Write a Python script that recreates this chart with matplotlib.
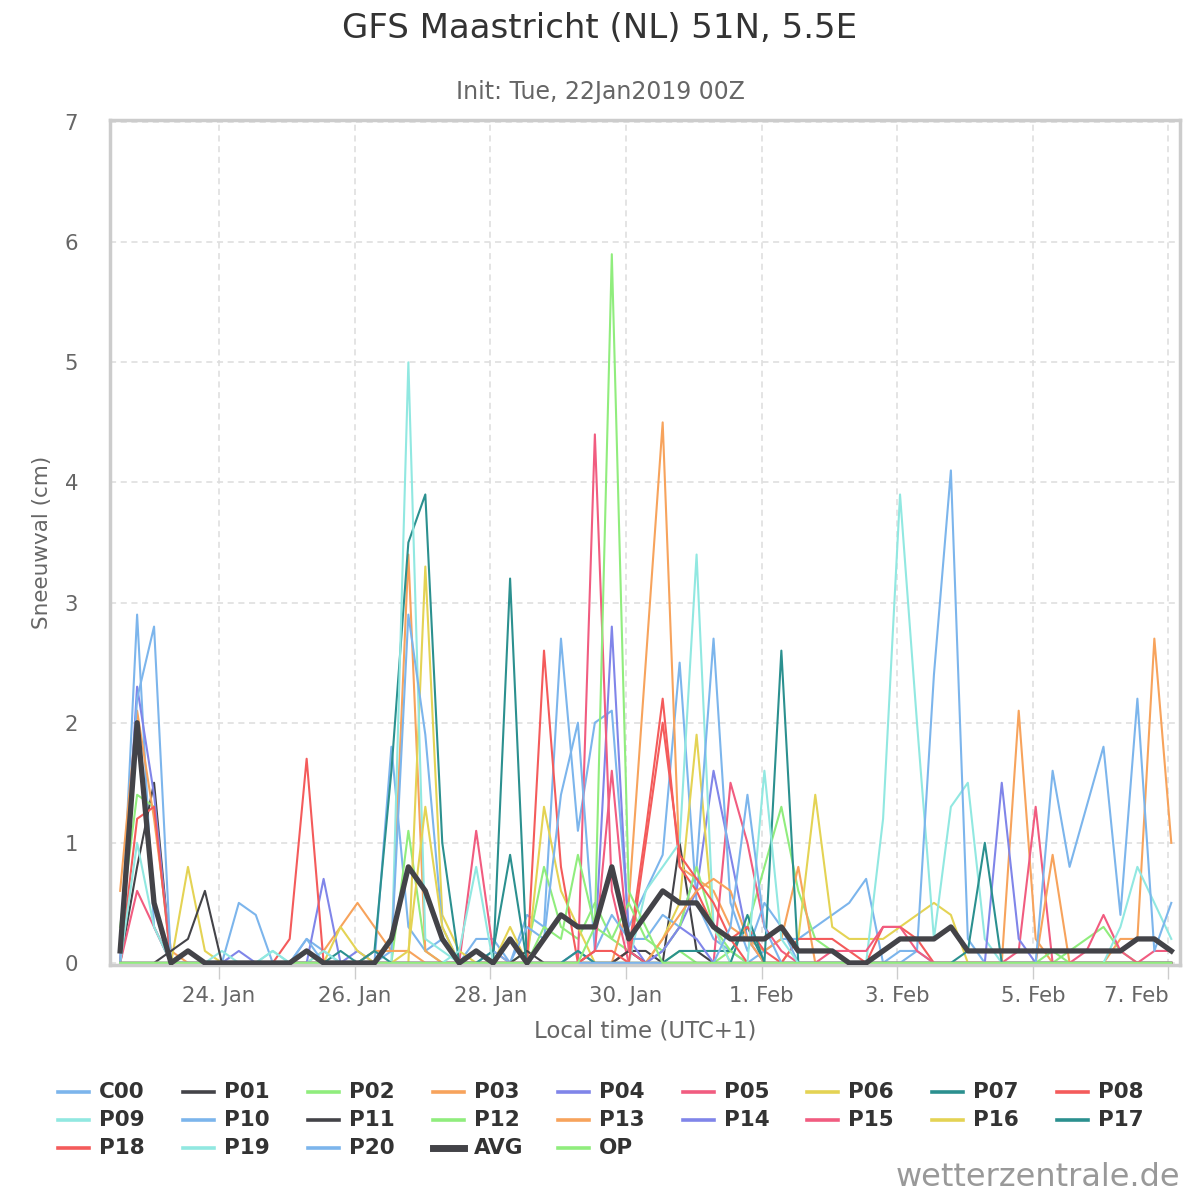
import matplotlib
matplotlib.use("Agg")
import matplotlib.pyplot as plt
from matplotlib.lines import Line2D

# time axis: days since 22 Jan 00:00 local, 6-hourly from 22 Jan 13:00 local
n_steps = 63
times = [13 / 24 + 0.25 * i for i in range(n_steps)]
tick_days = [2, 4, 6, 8, 10, 12, 14, 16]
tick_labels = ["24. Jan", "26. Jan", "28. Jan", "30. Jan", "1. Feb", "3. Feb", "5. Feb", "7. Feb"]

# snowfall (cm) per member
c00 = [0, 2.9, 0.3, 0, 0, 0, 0, 0.5, 0.4, 0,
       0, 0.2, 0.1, 0, 0, 0, 1.8, 0.3, 0.1, 0.2,
       0, 0.2, 0.2, 0, 0.4, 0.3, 2.7, 1.1, 2.0, 2.1,
       0.3, 0.6, 0.9, 2.5, 0.5, 0.2, 0.1, 0, 0.1, 0.2,
       0.2, 0.3, 0.4, 0.5, 0.7, 0, 0.1, 0.1, 0, 0,
       0, 0, 0, 0, 0, 0, 0, 0, 0, 0,
       0, 0, 0]
p01 = [0, 0.8, 1.5, 0, 0, 0, 0, 0, 0, 0,
       0, 0, 0, 0, 0, 0, 0, 0, 0, 0,
       0, 0, 0, 0, 0, 0, 0, 0, 0, 0,
       0.1, 0.1, 0, 1.0, 0.1, 0, 0, 0, 0, 0,
       0, 0, 0, 0, 0, 0, 0, 0, 0, 0,
       0, 0, 0, 0, 0, 0, 0, 0, 0, 0,
       0, 0, 0]
p02 = [0.3, 1.4, 1.3, 0, 0, 0, 0, 0, 0, 0,
       0, 0, 0, 0, 0, 0, 0, 1.1, 0.1, 0,
       0, 0, 0, 0, 0.1, 0.8, 0.3, 0.2, 0.5, 0.2,
       0.1, 0, 0, 0.1, 0, 0, 0.1, 0.3, 0.8, 1.3,
       0.6, 0.2, 0.1, 0, 0, 0, 0, 0, 0, 0,
       0, 0, 0, 0, 0, 0, 0.1, 0.2, 0.3, 0.1,
       0, 0, 0]
p03 = [0.6, 2.1, 1.2, 0.1, 0, 0, 0, 0, 0, 0,
       0, 0, 0.1, 0.3, 0.5, 0.3, 0.1, 3.4, 0.1, 0,
       0, 0, 0, 0, 0, 0, 0, 0, 0, 0,
       0.5, 2.5, 4.5, 0.8, 0.7, 0.6, 0.3, 0.2, 0.1, 0.2,
       0.8, 0, 0, 0, 0, 0, 0, 0, 0, 0,
       0, 0, 0, 2.1, 0.2, 0, 0, 0, 0, 0,
       0, 0, 0]
p04 = [0, 2.3, 1.4, 0, 0, 0, 0, 0.1, 0, 0,
       0, 0, 0.7, 0, 0.1, 0, 0, 0, 0, 0,
       0, 0, 0, 0, 0, 0, 0, 0, 0.1, 2.8,
       0.2, 0, 0.1, 0.3, 0.6, 1.6, 0.9, 0.2, 0, 0,
       0, 0, 0, 0, 0, 0, 0, 0, 0, 0,
       0, 0, 0, 0, 0, 0, 0, 0, 0, 0,
       0, 0, 0]
p05 = [0, 0.6, 0.3, 0, 0, 0, 0, 0, 0, 0,
       0, 0, 0, 0, 0, 0, 0, 0, 0, 0,
       0, 1.1, 0.1, 0, 0, 0, 0, 0, 4.4, 0.6,
       0, 0, 0, 0, 0, 0, 1.5, 1.0, 0.3, 0.1,
       0, 0, 0, 0, 0, 0, 0, 0, 0, 0,
       0, 0, 0, 0.1, 1.3, 0, 0, 0, 0, 0,
       0, 0, 0]
p06 = [0, 0, 0, 0, 0.8, 0.1, 0, 0, 0, 0,
       0, 0, 0, 0.3, 0.1, 0, 0, 0, 3.3, 0.4,
       0.1, 0, 0, 0.3, 0, 1.3, 0.6, 0.3, 0, 0,
       0, 0, 0.2, 0.5, 1.9, 0.3, 0, 0, 0, 0,
       0.2, 1.4, 0.3, 0.2, 0.2, 0.2, 0.3, 0.4, 0.5, 0.4,
       0, 0, 0, 0, 0, 0, 0, 0, 0, 0,
       0, 0, 0]
p07 = [0, 0, 0, 0, 0, 0, 0, 0, 0, 0,
       0, 0, 0, 0.1, 0, 0.1, 1.6, 3.5, 3.9, 1.0,
       0, 0, 0, 3.2, 0, 0, 0, 0, 0, 0,
       0, 0, 0, 0.1, 0.1, 0.1, 0.1, 0.3, 0, 0,
       0, 0, 0, 0, 0, 0, 0, 0, 0, 0,
       0, 0, 0, 0, 0, 0, 0, 0, 0, 0,
       0, 0, 0]
p08 = [0, 1.2, 1.3, 0, 0, 0, 0, 0, 0, 0,
       0.2, 1.7, 0, 0, 0, 0, 0, 0, 0, 0,
       0, 0, 0, 0, 0, 2.6, 0.8, 0, 0, 0,
       0.1, 1.1, 2.2, 0.8, 0.6, 0.3, 0.2, 0.3, 0.1, 0,
       0.2, 0.2, 0.2, 0.1, 0, 0.3, 0.3, 0.2, 0, 0,
       0, 0, 0, 0, 0, 0, 0, 0, 0, 0,
       0, 0, 0]
p09 = [0, 1.0, 0.3, 0, 0, 0, 0.1, 0, 0, 0.1,
       0, 0, 0.1, 0, 0, 0, 0, 5.0, 0.2, 0.1,
       0, 0, 0, 0, 0, 0, 0, 0, 0, 0,
       0, 0.6, 0.8, 1.0, 3.4, 0.3, 0, 0, 0, 0,
       0, 0, 0, 0, 0, 1.2, 3.9, 2.0, 0.2, 1.3,
       1.5, 0.2, 0, 0, 0, 0, 0, 0, 0, 0,
       0, 0, 0]
p10 = [0, 2.2, 2.8, 0, 0, 0, 0, 0, 0, 0,
       0, 0.2, 0, 0, 0, 0, 0.1, 2.9, 1.9, 0.3,
       0, 0, 0.1, 0, 0.3, 0.2, 1.4, 2.0, 0.1, 0.4,
       0.2, 0.2, 0.4, 0.3, 0.8, 2.7, 0.5, 0.1, 0.5, 0.3,
       0, 0, 0, 0, 0, 0, 0, 0.1, 2.4, 4.1,
       0.2, 0, 0, 0, 0, 0, 0, 0, 0, 0,
       0, 0, 0]
p11 = [0, 0, 0, 0.1, 0.2, 0.6, 0, 0, 0, 0,
       0, 0, 0, 0, 0, 0, 0, 0, 0, 0,
       0, 0, 0, 0, 0.1, 0, 0, 0, 0, 0,
       0.1, 0, 0, 0, 0, 0, 0, 0, 0, 0,
       0, 0, 0, 0, 0, 0, 0, 0, 0, 0,
       0, 0, 0, 0, 0, 0, 0, 0, 0, 0,
       0, 0, 0]
p12 = [0, 0, 0, 0, 0, 0, 0, 0, 0, 0,
       0, 0, 0, 0, 0, 0, 0, 0, 0, 0,
       0, 0, 0, 0, 0, 0.3, 0.2, 0.9, 0.3, 0.2,
       0.5, 0.2, 0.1, 0.3, 0.8, 0.3, 0.1, 0, 0, 0,
       0, 0, 0, 0, 0, 0, 0, 0, 0, 0,
       0, 0, 0, 0, 0, 0.1, 0, 0, 0, 0,
       0, 0, 0]
p13 = [0, 0, 0, 0, 0, 0, 0, 0, 0, 0,
       0, 0, 0, 0, 0, 0.1, 0.1, 0.1, 0, 0,
       0, 0, 0, 0, 0, 0, 0, 0, 0, 0,
       0, 0, 0.2, 0.4, 0.6, 0.7, 0.6, 0.2, 0, 0,
       0, 0, 0, 0, 0, 0, 0, 0, 0, 0,
       0, 0, 0, 0, 0, 0.9, 0, 0, 0, 0.2,
       0.2, 2.7, 1.0]
p14 = [0, 0, 0, 0, 0, 0, 0, 0, 0, 0,
       0, 0, 0, 0, 0, 0, 0, 0, 0, 0,
       0, 0, 0, 0, 0, 0, 0, 0.1, 0, 0,
       0, 0, 0.1, 0.3, 0.2, 0, 0, 0, 0, 0,
       0, 0, 0, 0, 0, 0, 0, 0, 0, 0,
       0, 0, 1.5, 0.2, 0, 0, 0, 0, 0, 0,
       0, 0, 0]
p15 = [0, 0, 0, 0, 0, 0, 0, 0, 0, 0,
       0, 0, 0, 0, 0, 0, 0, 0, 0, 0,
       0, 0, 0, 0, 0, 0, 0, 0, 0.1, 1.6,
       0.1, 0, 0, 0, 0, 0, 0, 0, 0, 0,
       0, 0, 0.1, 0.1, 0.1, 0.3, 0.3, 0.1, 0, 0,
       0, 0, 0, 0, 0, 0, 0, 0.1, 0.4, 0.1,
       0, 0.1, 0.1]
p16 = [0, 0, 0, 0, 0, 0, 0, 0, 0, 0,
       0, 0, 0, 0, 0, 0, 0, 0.1, 1.3, 0.3,
       0, 0, 0, 0, 0, 0, 0, 0, 0, 0,
       0, 0, 0, 0, 0, 0, 0, 0, 0, 0,
       0, 0, 0, 0, 0, 0, 0, 0, 0, 0,
       0, 0, 0, 0, 0, 0, 0, 0, 0, 0,
       0, 0, 0]
p17 = [0, 0, 0, 0, 0, 0, 0, 0, 0, 0,
       0, 0, 0, 0, 0, 0.1, 0, 0, 0, 0,
       0, 0, 0.1, 0.9, 0, 0, 0, 0.1, 0, 0,
       0, 0, 0, 0, 0, 0, 0, 0.4, 0, 2.6,
       0, 0, 0, 0, 0, 0, 0, 0, 0, 0,
       0.1, 1.0, 0, 0, 0, 0, 0, 0, 0, 0,
       0, 0, 0]
p18 = [0, 0, 0, 0, 0, 0, 0, 0, 0, 0,
       0, 0, 0, 0, 0, 0, 0, 0, 0, 0,
       0, 0, 0, 0, 0, 0, 0, 0, 0.1, 0.1,
       0, 1.0, 2.0, 0.9, 0.7, 0.5, 0.2, 0, 0, 0,
       0, 0, 0, 0, 0, 0, 0, 0, 0, 0,
       0, 0, 0, 0, 0, 0, 0, 0, 0, 0,
       0, 0, 0]
p19 = [0, 0, 0, 0, 0, 0, 0, 0, 0, 0.1,
       0, 0, 0, 0, 0, 0, 0, 0, 0, 0,
       0.1, 0.8, 0, 0, 0, 0, 0, 0, 0, 0,
       0, 0, 0, 0, 0, 0, 0, 0, 1.6, 0.2,
       0, 0, 0, 0, 0, 0, 0, 0, 0, 0,
       0, 0, 0, 0, 0, 0, 0, 0, 0, 0.3,
       0.8, 0.5, 0.2]
p20 = [0, 0, 0, 0, 0, 0, 0, 0, 0, 0,
       0, 0, 0, 0, 0, 0, 0, 0, 0, 0,
       0, 0, 0, 0, 0, 0, 0, 0, 0, 0,
       0, 0, 0, 0, 0, 0, 0.3, 1.4, 0.3, 0,
       0, 0, 0, 0, 0, 0, 0, 0, 0, 0,
       0, 0, 0, 0, 0, 1.6, 0.8, 1.3, 1.8, 0.4,
       2.2, 0.1, 0.5]
avg = [0.1, 2.0, 0.5, 0, 0.1, 0, 0, 0, 0, 0,
       0, 0.1, 0, 0, 0, 0, 0.2, 0.8, 0.6, 0.2,
       0, 0.1, 0, 0.2, 0, 0.2, 0.4, 0.3, 0.3, 0.8,
       0.2, 0.4, 0.6, 0.5, 0.5, 0.3, 0.2, 0.2, 0.2, 0.3,
       0.1, 0.1, 0.1, 0, 0, 0.1, 0.2, 0.2, 0.2, 0.3,
       0.1, 0.1, 0.1, 0.1, 0.1, 0.1, 0.1, 0.1, 0.1, 0.1,
       0.2, 0.2, 0.1]
op = [0, 0, 0, 0, 0, 0, 0, 0, 0, 0,
      0, 0, 0, 0, 0, 0, 0, 0, 0, 0,
      0, 0, 0, 0, 0, 0, 0, 0, 0.3, 5.9,
      0.6, 0.3, 0, 0, 0, 0, 0, 0, 0, 0,
      0, 0, 0, 0, 0, 0, 0, 0, 0, 0,
      0, 0, 0, 0, 0, 0, 0, 0, 0, 0,
      0, 0, 0]

names = ["C00", "P01", "P02", "P03", "P04", "P05", "P06", "P07", "P08", "P09",
         "P10", "P11", "P12", "P13", "P14", "P15", "P16", "P17", "P18", "P19",
         "P20", "AVG", "OP"]
series = [c00, p01, p02, p03, p04, p05, p06, p07, p08, p09,
          p10, p11, p12, p13, p14, p15, p16, p17, p18, p19,
          p20, avg, op]

palette = ["#7cb5ec", "#434348", "#90ed7d", "#f7a35c", "#8085e9",
           "#f15c80", "#e4d354", "#2b908f", "#f45b5b", "#91e8e1"]

plt.rcParams['font.family'] = ['DejaVu Sans']

W = H = 1200
fig = plt.figure(figsize=(12, 12), dpi=100, facecolor='white')
ax = fig.add_axes([110 / W, 1 - 965 / H, 1070 / W, 845 / H])

for k, (name, vals) in enumerate(zip(names, series)):
    col = palette[k % 10]
    lw, z = (3.8, 5) if name == "AVG" else (1.5, 2)
    ax.plot(times, vals, color=col, lw=lw, zorder=z, label=name)

ax.set_xlim(0.392, 16.17)
ax.set_ylim(-0.017, 7.017)
ax.set_yticks(range(0, 8))
ax.set_xticks(tick_days)
ax.set_xticklabels(tick_labels)
# last label pulled inside the chart, as the original does
ax.get_xticklabels()[-1].set_horizontalalignment('right')
ax.grid(True, color='#dddddd', linestyle=(0, (4, 3)), lw=1.1)
ax.set_axisbelow(True)
for s in ax.spines.values():
    s.set_color('#cccccc')
    s.set_linewidth(2.5)
ax.tick_params(axis='y', length=0, pad=23, labelsize=15.3, labelcolor='#666666')
ax.tick_params(axis='x', length=10, color='#cccccc', width=1, pad=5,
               labelsize=15.3, labelcolor='#666666')

ax.set_ylabel("Sneeuwval (cm)", fontsize=15.5, color='#666666', labelpad=9)
ax.set_xlabel("Local time (UTC+1)", fontsize=16.5, color='#666666', labelpad=10)

fig.text(0.5, 1 - 28 / H, "GFS Maastricht (NL) 51N, 5.5E", ha='center', va='center',
         fontsize=24.5, color='#333333')
fig.text(0.5, 1 - 92 / H, "Init: Tue, 22Jan2019 00Z", ha='center', va='center',
         fontsize=17, color='#666666')
fig.text(1180 / W, 1 - 1177 / H, "wetterzentrale.de", ha='right', va='center',
         fontsize=23, color='#999999')

# legend laid out row-wise like the original, 9 fixed-width columns
col_x0, col_step = 58, 124.9
row_y = [1092, 1120, 1148]
for k, name in enumerate(names):
    r, c = divmod(k, 9)
    x0 = col_x0 + col_step * c
    y = 1 - row_y[r] / H
    lw = 5 if name == "AVG" else 2.6
    fig.add_artist(Line2D([x0 / W, (x0 + 31) / W], [y, y], color=palette[k % 10],
                          lw=lw, transform=fig.transFigure))
    fig.text((x0 + 41) / W, y, name, ha='left', va='center', fontsize=15.5,
             fontweight='bold', color='#333333')

fig.savefig("out.png", dpi=100, facecolor='white')
